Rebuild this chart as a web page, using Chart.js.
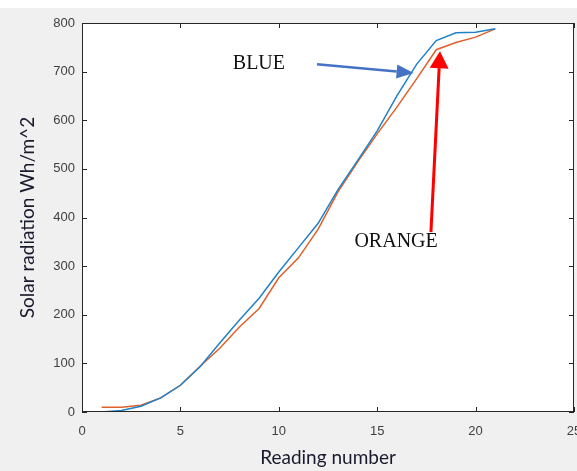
<!DOCTYPE html>
<html>
<head>
<meta charset="utf-8">
<script src="https://cdn.jsdelivr.net/npm/chart.js@4"></script>
<style>
  html, body { margin: 0; padding: 0; background: #f0f0f0; }
  #wrap { width: 577px; height: 471px; }
</style>
</head>
<body>
<div id="wrap"><canvas id="solarChart" width="577" height="471"></canvas></div>
<script>
// readings and the two measured series
const readings = [1, 2, 3, 4, 5, 6, 7, 8, 9, 10, 11, 12, 13, 14, 15, 16, 17, 18, 19, 20, 21];
const blueValues = [0, 3, 12, 29, 55, 93, 142, 189, 234, 288, 338, 388, 457, 517, 578, 650, 715, 764, 780, 781, 788];
const orangeValues = [10, 10, 14, 29, 55, 94, 131, 175, 213, 276, 317, 376, 452, 514, 572, 627, 685, 745, 760, 771, 788];

const xTicks = [0, 5, 10, 15, 20, 25];
const yTicks = [0, 100, 200, 300, 400, 500, 600, 700, 800];

// annotations (in data coordinates)
const labelBlue = { text: 'BLUE', x: 8.99, y: 716 };
const labelOrange = { text: 'ORANGE', x: 15.96, y: 350 };
const arrowBlue = { from: [11.94, 715], to: [16.85, 697] };
const arrowOrange = { from: [17.73, 370], to: [18.19, 742] };

function toPoints(xs, ys) {
  return xs.map((x, i) => ({ x: x, y: ys[i] }));
}

// background, box, inward ticks, annotations
const matlabLook = {
  id: 'matlabLook',
  beforeDraw(chart) {
    const c = chart.ctx, a = chart.chartArea;
    c.save();
    c.fillStyle = '#f0f0f0';
    c.fillRect(0, 0, chart.width, chart.height);
    c.fillStyle = '#ffffff';
    c.fillRect(0, 0, chart.width, 8);
    c.fillRect(a.left, a.top, a.right - a.left, a.bottom - a.top);
    c.restore();
  },
  afterDatasetsDraw(chart) {
    const c = chart.ctx, a = chart.chartArea;
    const xs = chart.scales.x, ys = chart.scales.y;
    c.save();
    c.strokeStyle = '#262626';
    c.lineWidth = 1;
    c.strokeRect(a.left + 0.5, a.top + 0.5, a.right - a.left - 1, a.bottom - a.top - 1);
    c.beginPath();
    xTicks.forEach(v => {
      const px = Math.round(xs.getPixelForValue(v)) + 0.5;
      c.moveTo(px, a.bottom); c.lineTo(px, a.bottom - 5);
      c.moveTo(px, a.top); c.lineTo(px, a.top + 5);
    });
    yTicks.forEach(v => {
      const py = Math.round(ys.getPixelForValue(v)) + 0.5;
      c.moveTo(a.left, py); c.lineTo(a.left + 5, py);
      c.moveTo(a.right, py); c.lineTo(a.right - 5, py);
    });
    c.stroke();

    // arrows
    function arrow(ar, color, width, headLen, headW) {
      const x1 = xs.getPixelForValue(ar.from[0]), y1 = ys.getPixelForValue(ar.from[1]);
      const x2 = xs.getPixelForValue(ar.to[0]), y2 = ys.getPixelForValue(ar.to[1]);
      const ang = Math.atan2(y2 - y1, x2 - x1);
      const bx = x2 - headLen * Math.cos(ang), by = y2 - headLen * Math.sin(ang);
      c.strokeStyle = color;
      c.fillStyle = color;
      c.lineWidth = width;
      c.beginPath();
      c.moveTo(x1, y1); c.lineTo(bx, by);
      c.stroke();
      c.beginPath();
      c.moveTo(x2, y2);
      c.lineTo(bx + headW / 2 * Math.sin(ang), by - headW / 2 * Math.cos(ang));
      c.lineTo(bx - headW / 2 * Math.sin(ang), by + headW / 2 * Math.cos(ang));
      c.closePath();
      c.fill();
    }
    arrow(arrowBlue, '#4472c4', 2.5, 17, 14);
    arrow(arrowOrange, '#ff0000', 3, 17, 19);

    c.fillStyle = '#111111';
    c.font = '20px "Liberation Serif", "Times New Roman", serif';
    c.textAlign = 'center';
    c.textBaseline = 'middle';
    [labelBlue, labelOrange].forEach(l => {
      c.fillText(l.text, xs.getPixelForValue(l.x), ys.getPixelForValue(l.y));
    });
    c.restore();
  }
};

const ctx = document.getElementById('solarChart').getContext('2d');
const solarChart = new Chart(ctx, {
  type: 'line',
  data: {
    datasets: [
      {
        label: 'Blue',
        data: toPoints(readings, blueValues),
        borderColor: '#1f82c8',
        borderWidth: 1.5,
        pointRadius: 0,
        tension: 0,
        fill: false
      },
      {
        label: 'Orange',
        data: toPoints(readings, orangeValues),
        borderColor: '#e0602a',
        borderWidth: 1.5,
        pointRadius: 0,
        tension: 0,
        fill: false
      }
    ]
  },
  options: {
    responsive: false,
    animation: false,
    layout: { padding: { left: 0, right: 3, top: 23, bottom: 0 } },
    plugins: { legend: { display: false }, tooltip: { enabled: false } },
    scales: {
      x: {
        type: 'linear',
        min: 0,
        max: 25,
        afterFit(scale) { scale.height = 59; scale.paddingLeft = 0; scale.paddingRight = 0; },
        afterBuildTicks(scale) { scale.ticks = xTicks.map(v => ({ value: v })); },
        grid: { display: false, drawTicks: false },
        border: { display: false },
        ticks: { color: '#404040', font: { family: 'Arial, "Liberation Sans"', size: 13 }, padding: 12, maxRotation: 0 },
        title: {
          display: true,
          text: 'Reading number',
          color: '#1a1a2e',
          font: { family: 'Lato, "Open Sans", sans-serif', size: 19 },
          padding: { top: 0, bottom: 2 }
        }
      },
      y: {
        min: 0,
        max: 800,
        afterFit(scale) { scale.width = 82; scale.paddingTop = 0; scale.paddingBottom = 0; },
        afterBuildTicks(scale) { scale.ticks = yTicks.map(v => ({ value: v })); },
        grid: { display: false, drawTicks: false },
        border: { display: false },
        ticks: { color: '#404040', font: { family: 'Arial, "Liberation Sans"', size: 13 }, padding: 7 },
        title: {
          display: true,
          text: 'Solar radiation Wh/m^2',
          color: '#1a1a2e',
          font: { family: 'Lato, "Open Sans", sans-serif', size: 19 },
          padding: { top: 16, bottom: 0 }
        }
      }
    }
  },
  plugins: [matlabLook]
});
</script>
</body>
</html>
